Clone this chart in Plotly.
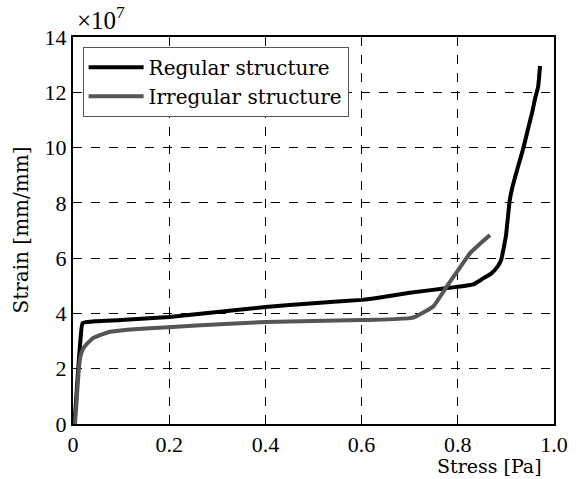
import plotly.graph_objects as go

# Data (strain in units of 1e7 mm/mm)
reg_stress = [0.0, 0.004, 0.010, 0.016, 0.020, 0.05, 0.10, 0.20, 0.30, 0.40, 0.50, 0.60, 0.628, 0.70, 0.771, 0.832, 0.853, 0.870, 0.883, 0.890, 0.900, 0.908, 0.914, 0.925, 0.935, 0.945, 0.955, 0.961, 0.967, 0.971]
reg_strain = [0.0, 0.3, 1.8, 3.15, 3.65, 3.72, 3.76, 3.87, 4.05, 4.23, 4.37, 4.49, 4.55, 4.75, 4.9, 5.05, 5.27, 5.45, 5.7, 5.93, 6.8, 8.1, 8.6, 9.3, 9.9, 10.6, 11.3, 11.8, 12.2, 12.95]

irr_stress = [0.004, 0.007, 0.010, 0.014, 0.018, 0.024, 0.041, 0.075, 0.12, 0.198, 0.315, 0.40, 0.50, 0.60, 0.628, 0.70, 0.71, 0.73, 0.75, 0.775, 0.798, 0.826, 0.845, 0.867]
irr_strain = [0.0, 0.7, 1.5, 2.3, 2.6, 2.8, 3.1, 3.33, 3.42, 3.5, 3.62, 3.69, 3.73, 3.76, 3.77, 3.83, 3.87, 4.05, 4.27, 4.92, 5.5, 6.19, 6.5, 6.84]

x_ticks = [0, 0.2, 0.4, 0.6, 0.8, 1.0]
x_tick_text = ["0", "0.2", "0.4", "0.6", "0.8", "1.0"]
y_ticks = [0, 2, 4, 6, 8, 10, 12, 14]

TICK_FONT = "Liberation Serif"
TEXT_FONT = "DejaVu Serif"
TFS = 22
FS = 20

fig = go.Figure()
fig.add_trace(go.Scatter(x=reg_stress, y=reg_strain, mode="lines", name="Regular structure",
                         line=dict(color="black", width=4, shape="spline", smoothing=0.4)))
fig.add_trace(go.Scatter(x=irr_stress, y=irr_strain, mode="lines", name="Irregular structure",
                         line=dict(color="#555555", width=4, shape="spline", smoothing=0.4)))

axis_common = dict(showline=True, linecolor="black", linewidth=2, mirror=True,
                   showgrid=True, gridcolor="black", gridwidth=1, griddash="dash",
                   zeroline=False, ticks="inside", ticklen=4, tickcolor="black",
                   tickfont=dict(family=TICK_FONT, size=TFS, color="black"))

fig.update_xaxes(range=[0, 1.0], tickvals=x_ticks, ticktext=x_tick_text, **axis_common)
fig.update_yaxes(range=[0, 14], tickvals=y_ticks, **axis_common)

fig.update_layout(
    width=580, height=479,
    margin=dict(l=73, r=18, t=37, b=55),
    plot_bgcolor="white", paper_bgcolor="white",
    font=dict(family=TEXT_FONT, size=FS, color="black"),
    showlegend=True,
    legend=dict(x=0.02, y=0.975, xanchor="left", yanchor="top",
                bordercolor="#555555", borderwidth=1, bgcolor="white",
                font=dict(family=TEXT_FONT, size=FS), itemwidth=55,
                tracegroupgap=0),
    annotations=[
        dict(text="Stress [Pa]", xref="paper", yref="paper", x=0.865, y=0, yshift=-42,
             showarrow=False, xanchor="center", yanchor="middle", font=dict(family=TEXT_FONT, size=19)),
        dict(text="Strain [mm/mm]", xref="paper", yref="paper", x=0, xshift=-53, y=0.5,
             showarrow=False, textangle=-90, xanchor="center", yanchor="middle", font=dict(family=TEXT_FONT, size=FS)),
        dict(text="×10<sup>7</sup>", xref="paper", yref="paper", x=0, xshift=2, y=1, yshift=19,
             showarrow=False, xanchor="left", yanchor="middle", font=dict(family=TICK_FONT, size=25)),
    ],
)

fig.write_html("out.html")
